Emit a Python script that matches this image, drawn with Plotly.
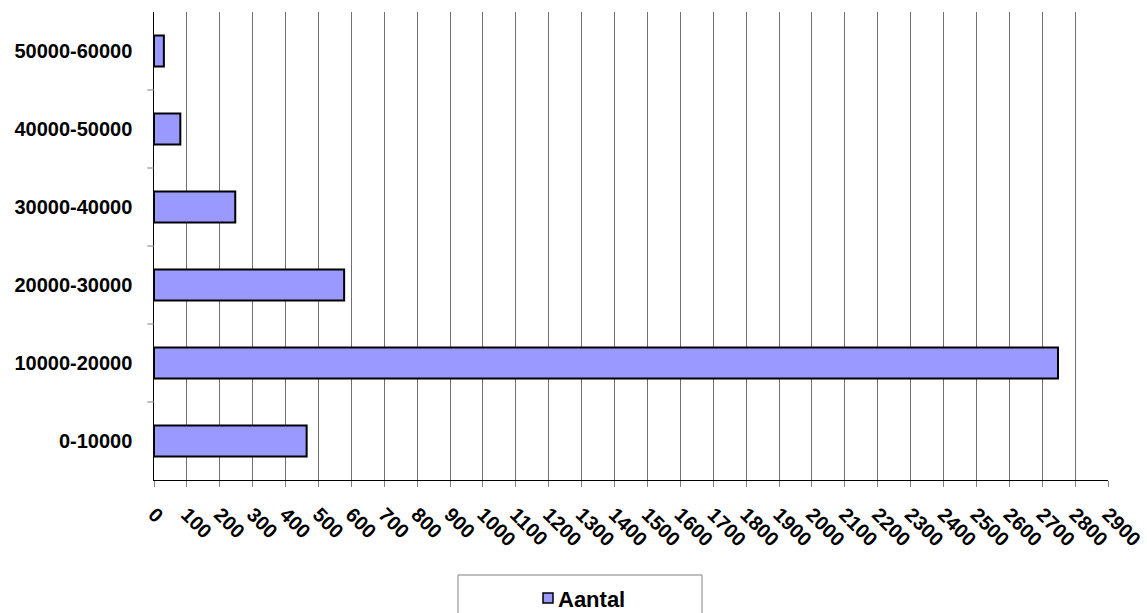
import plotly.graph_objects as go

# Income bands and number of records per band
categories = ["0-10000", "10000-20000", "20000-30000", "30000-40000", "40000-50000", "50000-60000"]
aantal = [464, 2748, 578, 247, 80, 30]
x_ticks = list(range(0, 3000, 100))
series_name = "Aantal"
bar_color = "#9999FF"

fig = go.Figure()
fig.add_trace(go.Bar(
    y=categories,
    x=aantal,
    orientation="h",
    name=series_name,
    marker=dict(color=bar_color, line=dict(color="#000000", width=2)),
    width=0.4,
    showlegend=False,
))

fig.update_layout(
    width=1147,
    height=613,
    margin=dict(l=154, r=39, t=12, b=133, autoexpand=False),
    plot_bgcolor="white",
    paper_bgcolor="white",
    font=dict(family="Liberation Sans, Arial, sans-serif", color="black", size=16),
    bargap=0.6,
)

fig.update_xaxes(
    range=[0, 2900],
    tickvals=x_ticks,
    ticktext=[str(v) for v in x_ticks],
    tickangle=45,
    tickfont=dict(size=20, weight="bold"),
    ticklabelstandoff=8,
    showgrid=True,
    gridcolor="#707070",
    gridwidth=1,
    showline=True,
    linecolor="black",
    linewidth=1,
    ticks="outside",
    ticklen=6,
    tickcolor="#808080",
    zeroline=False,
    automargin=False,
)

fig.update_yaxes(
    type="category",
    tickfont=dict(size=20, weight="bold"),
    showgrid=False,
    showline=True,
    linecolor="black",
    linewidth=1,
    ticks="",
    ticksuffix="   ",
    zeroline=False,
    automargin=False,
)

# Tick marks sit between categories on the value axis side
for b in [0.5, 1.5, 2.5, 3.5, 4.5]:
    fig.add_shape(type="line", xref="paper", yref="y", x0=-0.007, x1=0, y0=b, y1=b,
                  line=dict(color="#808080", width=1))

# Legend box below the chart (pixel coordinates converted to paper units)
W, H = 1147, 613
L, R, T, B = 154, 39, 12, 133
pw, ph = W - L - R, H - T - B


def px(x):
    return (x - L) / pw


def py(y):
    return (H - B - y) / ph


fig.add_shape(type="rect", xref="paper", yref="paper",
              x0=px(458), x1=px(702), y0=py(575), y1=py(625),
              line=dict(color="#808080", width=1), fillcolor="white", layer="above")
fig.add_shape(type="rect", xref="paper", yref="paper",
              x0=px(543), x1=px(553), y0=py(593), y1=py(603),
              line=dict(color="black", width=1.5), fillcolor=bar_color, layer="above")
fig.add_annotation(text="<b>" + series_name + "</b>", xref="paper", yref="paper",
                   x=px(556), y=py(599), xanchor="left", yanchor="middle",
                   showarrow=False, font=dict(size=22, color="black"))

fig.write_html("out.html")
